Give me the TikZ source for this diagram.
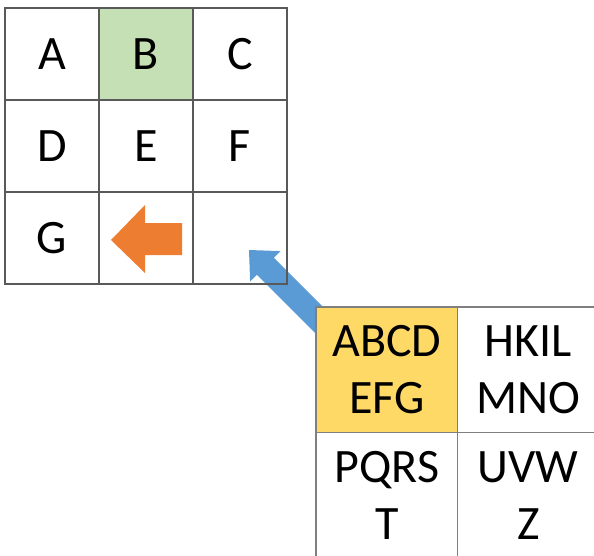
\documentclass[tikz,border=0pt]{standalone}
\usepackage{fontspec}
\setmainfont{Carlito}
\definecolor{gridline}{HTML}{595959}
\definecolor{gridlinelight}{HTML}{7F7F7F}
\definecolor{cellgreen}{HTML}{C5E0B4}
\definecolor{cellyellow}{HTML}{FFD966}
\definecolor{arroworange}{HTML}{ED7D31}
\definecolor{arrowblue}{HTML}{5B9BD5}
\tikzset{
  cell/.style={draw=gridline, line width=1.2pt, inner sep=0pt, outer sep=0pt,
    font=\fontsize{48}{57}\selectfont, align=center, text=black},
  small/.style={cell, minimum width=94pt, minimum height=92pt},
  big/.style={cell, draw=gridlinelight, minimum width=141.5pt, minimum height=125.5pt},
  blockarrow/.style={draw=none}
}
\begin{document}
\begin{tikzpicture}[x=1pt, y=-1pt]
  \useasboundingbox (0,0) rectangle (594,556);
  \clip (0,0) rectangle (594,556);

  % blue block arrow, lying under the 2x2 table
  \fill[arrowblue, blockarrow] (249,250) -- (280.5,251.1) -- (273.8,257.8)
    -- (338.5,322.5) -- (321.5,339.5) -- (256.8,274.8) -- (250.1,281.5) -- cycle;

  % 3x3 table
  \node[small] (a) at (52,54) {A};
  \node[small, fill=cellgreen] (b) at (146,54) {B};
  \node[small] (c) at (240,54) {C};
  \node[small] (d) at (52,146) {D};
  \node[small] (e) at (146,146) {E};
  \node[small] (f) at (240,146) {F};
  \node[small] (g) at (52,238) {G};
  \node[small] (h) at (146,238) {};
  \node[small] (i) at (240,238) {};

  % orange block arrow pointing left
  \fill[arroworange, blockarrow] (182,223) -- (145,223) -- (145,205) -- (111,240)
    -- (145,273) -- (145,255) -- (182,255) -- cycle;

  % 2x2 table
  \node[big, fill=cellyellow] (p) at (386.75,369.75) {ABCD\\EFG};
  \node[big] (q) at (528.25,369.75) {HKIL\\MNO};
  \node[big] (r) at (386.75,495.25) {PQRS\\T};
  \node[big] (s) at (528.25,495.25) {UVW\\Z};
\end{tikzpicture}
\end{document}
